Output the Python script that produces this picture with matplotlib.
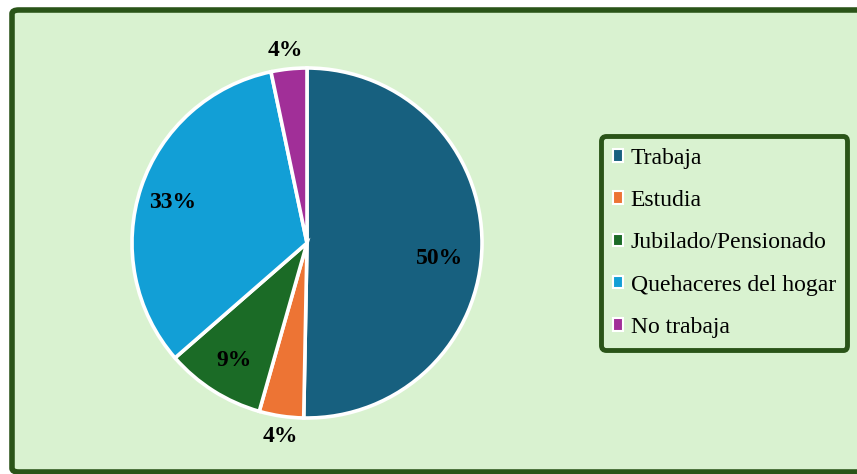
import matplotlib.pyplot as plt
from matplotlib.patches import FancyBboxPatch, Patch

# data
categorias = ["Trabaja", "Estudia", "Jubilado/Pensionado", "Quehaceres del hogar", "No trabaja"]
valores = [50.3, 4.1, 9.2, 33.1, 3.3]
etiquetas = ["50%", "4%", "9%", "33%", "4%"]
colores = ["#17607f", "#ed7434", "#1b6b26", "#129fd6", "#a12f98"]

BG = "#d9f2d0"
BORDE = "#2a5418"
W, H = 857, 474

plt.rcParams["font.family"] = ["Liberation Serif", "DejaVu Serif"]

fig = plt.figure(figsize=(W / 100, H / 100), dpi=100)
fig.patch.set_facecolor("white")

# outer frame of the chart area
marco = FancyBboxPatch((12 / W, 2 / H), 860 / W, 462 / H,
                       boxstyle="round,pad=0,rounding_size=0.008",
                       transform=fig.transFigure, facecolor=BG,
                       edgecolor=BORDE, linewidth=4, zorder=-5)
fig.patches.append(marco)

# pie axes: center (307, 243), radius 175 px
cx, cy, r = 307, 243, 175
ax = fig.add_axes([(cx - r) / W, (H - cy - r) / H, 2 * r / W, 2 * r / H])
ax.patch.set_visible(False)
wedges, _ = ax.pie(valores, colors=colores, startangle=90, counterclock=False,
                   radius=1, wedgeprops=dict(edgecolor="white", linewidth=2.6))
ax.set_xlim(-1.0, 1.0)
ax.set_ylim(-1.0, 1.0)
ax.set_aspect("auto")
ax.axis("off")

# percentage labels (pixel positions of the reference)
pos = [(440, 258), (280, 436), (234, 360), (173, 202), (285, 50)]
for (px, py), txt in zip(pos, etiquetas):
    fig.text(px / W, 1 - py / H, txt, ha="center", va="center",
             fontsize=17, fontweight="bold", color="black")

handles = [Patch(facecolor=c, edgecolor="white", linewidth=1.5) for c in colores]
leg = fig.legend(handles, categorias, loc="upper left",
                 bbox_to_anchor=(601 / W, 1 - 136 / H),
                 fontsize=17, frameon=True, fancybox=True,
                 handlelength=0.45, handleheight=0.45, handletextpad=0.3,
                 labelspacing=0.9, borderpad=0.5, borderaxespad=0)
leg.set_zorder(10)
frame = leg.get_frame()
frame.set_facecolor(BG)
frame.set_edgecolor(BORDE)
frame.set_linewidth(3.5)
frame.set_alpha(1)

fig.savefig("out.png", dpi=100, facecolor="white")
